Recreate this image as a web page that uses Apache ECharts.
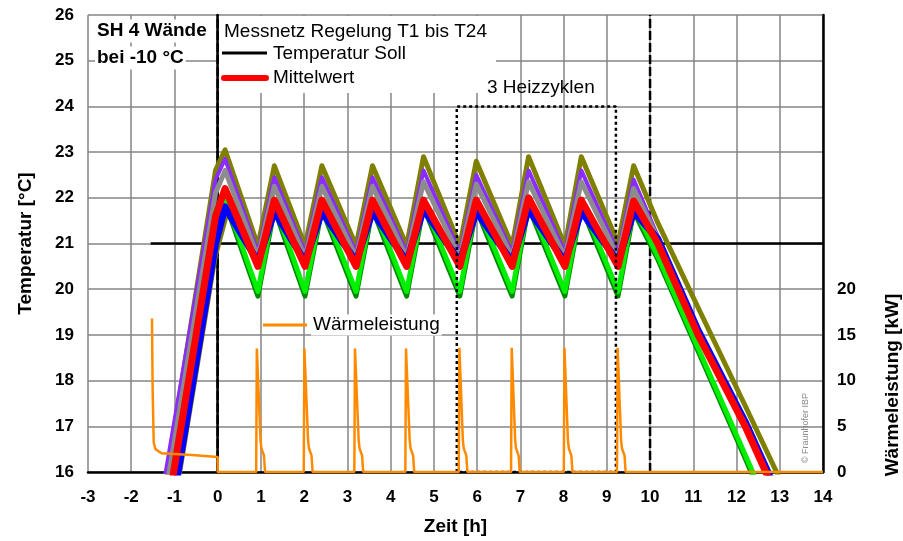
<!DOCTYPE html>
<html>
<head>
<meta charset="utf-8">
<script src="https://cdn.jsdelivr.net/npm/echarts@6/dist/echarts.min.js"></script>
<style>
  html, body { margin: 0; padding: 0; background: #fff; }
  #chart { width: 903px; height: 541px; }
</style>
</head>
<body>
<div id="chart"></div>
<script>
// Stuetzstellen der Zeit [h] fuer die Temperaturfuehler
var zeit = [-1.4, -0.05, 0.17, 0.93, 1.31, 2.02, 2.41, 3.20, 3.58, 4.37, 4.76, 5.60, 5.98, 6.81, 7.19, 8.03, 8.41, 9.26, 9.62, 10.18, 11.11, 12.2, 13.2];

// Temperaturen [°C]
var oliv   = [14.6, 22.6, 23.05, 20.95, 22.7, 20.95, 22.7, 20.95, 22.7, 20.95, 22.9, 20.95, 22.8, 20.95, 22.9, 20.95, 22.9, 21.0, 22.7, 21.45, 19.6, 17.45, 15.45];
var lila   = [14.9, 22.4, 22.85, 20.8, 22.45, 20.8, 22.45, 20.8, 22.45, 20.8, 22.6, 20.8, 22.5, 20.8, 22.6, 20.8, 22.6, 20.8, 22.4, 21.15, 19.15, 17.1, 15.0];
var grau   = [14.4, 22.1, 22.6, 20.7, 22.25, 20.7, 22.25, 20.7, 22.25, 20.7, 22.35, 20.7, 22.3, 20.7, 22.35, 20.7, 22.35, 20.7, 22.2, 21.1, 19.1, 17.05, 15.0];
var dgruen = [13.8, 21.6, 21.9, 19.85, 21.75, 19.85, 21.75, 19.85, 21.75, 19.85, 21.8, 19.85, 21.75, 19.85, 21.8, 19.85, 21.8, 19.85, 21.7, 20.65, 18.65, 16.3, 14.1];
var gruen  = [13.9, 21.7, 22.0, 19.95, 21.85, 19.95, 21.85, 19.95, 21.85, 19.95, 21.9, 19.95, 21.85, 19.95, 21.9, 19.95, 21.9, 19.95, 21.8, 20.72, 18.72, 16.38, 14.2];
var blau   = [13.2, 21.0, 21.8, 20.6, 21.7, 20.6, 21.7, 20.6, 21.7, 20.6, 21.75, 20.6, 21.7, 20.6, 21.75, 20.6, 21.7, 20.6, 21.7, 21.1, 19.1, 17.1, 15.0];
var mittel = [13.8, 21.6, 22.2, 20.5, 21.95, 20.5, 21.95, 20.5, 21.95, 20.5, 21.95, 20.5, 21.95, 20.5, 22.0, 20.5, 21.95, 20.5, 21.93, 21.0, 19.0, 17.0, 14.9];

// langsamer Fuehler beim Aufheizen
var oliv2Zeit = [-1.4, -0.05, 0.22, 0.6, 0.93];
var oliv2     = [12.95, 20.7, 21.65, 21.1, 20.6];

var soll = [[-1.55, 21], [14, 21]];
var grenzen = [0, 10];
var heizBox = [[5.53, 16], [5.53, 24], [9.21, 24], [9.21, 16], [5.53, 16]];

// Waermeleistung [kW]
var leistung = [
  [-1.52, 16.8], [-1.505, 9], [-1.48, 3.2], [-1.44, 2.5], [-1.3, 2.05], [-0.6, 1.85], [0, 1.65], [0, 0],
  [0.89, 0], [0.905, 13.5], [0.95, 13.4], [0.99, 3.5], [1.01, 2.6], [1.07, 1.8], [1.09, 1.7], [1.095, 0],
  [1.99, 0], [2.005, 13.5], [2.05, 13.4], [2.09, 3.5], [2.11, 2.6], [2.17, 1.8], [2.19, 1.7], [2.195, 0],
  [3.16, 0], [3.175, 13.5], [3.22, 13.4], [3.26, 3.5], [3.28, 2.6], [3.34, 1.8], [3.36, 1.7], [3.365, 0],
  [4.34, 0], [4.355, 13.5], [4.40, 13.4], [4.44, 3.5], [4.46, 2.6], [4.52, 1.8], [4.54, 1.7], [4.545, 0],
  [5.575, 0], [5.59, 13.6], [5.63, 13.4], [5.67, 3.5], [5.69, 2.6], [5.75, 1.8], [5.77, 1.7], [5.775, 0],
  [6.785, 0], [6.80, 13.6], [6.84, 13.4], [6.88, 3.5], [6.90, 2.6], [6.96, 1.8], [6.98, 1.7], [6.985, 0],
  [8.005, 0], [8.02, 13.6], [8.06, 13.4], [8.10, 3.5], [8.12, 2.6], [8.18, 1.8], [8.20, 1.7], [8.205, 0],
  [9.235, 0], [9.25, 13.6], [9.29, 13.4], [9.33, 3.5], [9.35, 2.6], [9.41, 1.8], [9.43, 1.7], [9.435, 0],
  [14, 0]
];

var schrift = "'Liberation Sans', Arial, sans-serif";

function paare(t, v) {
  return t.map(function (x, i) { return [x, v[i]]; });
}

function fuehler(name, werte, farbe, breite) {
  return {
    name: name, type: 'line', data: paare(zeit, werte), showSymbol: false,
    lineStyle: { color: farbe, width: breite, join: 'round' }, silent: true
  };
}

var series = [
  { type: 'line', data: soll, showSymbol: false, lineStyle: { color: '#000', width: 2.5 } }
];
grenzen.forEach(function (g) {
  series.push({
    type: 'line', data: [[g, 16], [g, 26]], showSymbol: false,
    lineStyle: { color: '#000', width: 2.5, type: [9, 3] }
  });
});
series.push(fuehler('T oliv', oliv, '#808000', 5));
series.push({
  type: 'line', data: paare(oliv2Zeit, oliv2), showSymbol: false,
  lineStyle: { color: '#808000', width: 4 }
});
series.push(fuehler('T lila', lila, '#8a2cff', 4));
series.push(fuehler('T grau', grau, '#8c8c8c', 5));
series.push(fuehler('T dunkelgruen', dgruen, '#008a00', 5));
series.push(fuehler('T gruen', gruen, '#00f000', 5));
series.push(fuehler('T blau', blau, '#0000ff', 7));
series.push(fuehler('Mittelwert', mittel, '#ff0000', 7));
series.push({
  type: 'line', data: heizBox, showSymbol: false,
  lineStyle: { color: '#000', width: 2.5, type: [3, 3] }
});
series.push({
  name: 'Wärmeleistung', type: 'line', yAxisIndex: 1, data: leistung, showSymbol: false,
  lineStyle: { color: '#ff8a00', width: 2.5 }
});

var chart = echarts.init(document.getElementById('chart'));
chart.setOption({
  animation: false,
  backgroundColor: '#fff',
  grid: { left: 88, right: 80, top: 15, bottom: 67 },
  xAxis: {
    type: 'value', min: -3, max: 14, interval: 1,
    name: 'Zeit [h]', nameLocation: 'middle', nameGap: 45,
    nameTextStyle: { fontFamily: schrift, fontSize: 19, fontWeight: 'bold', color: '#000' },
    axisLine: { onZero: false, lineStyle: { color: '#000', width: 2.5 } },
    axisTick: { show: false },
    axisLabel: { fontFamily: schrift, fontSize: 17, fontWeight: 'bold', color: '#000', margin: 17 },
    splitLine: { lineStyle: { color: '#858585', width: 1.5 } }
  },
  yAxis: [{
    type: 'value', min: 16, max: 26, interval: 1,
    name: 'Temperatur [°C]', nameLocation: 'middle', nameGap: 53, nameRotate: 90,
    nameTextStyle: { fontFamily: schrift, fontSize: 19, fontWeight: 'bold', color: '#000' },
    axisLine: { show: true, lineStyle: { color: '#000', width: 2.5 } },
    axisTick: { show: false },
    axisLabel: { fontFamily: schrift, fontSize: 17, fontWeight: 'bold', color: '#000', margin: 14 },
    splitLine: { lineStyle: { color: '#858585', width: 1.5 } }
  }, {
    type: 'value', min: 0, max: 50, interval: 5, position: 'right',
    axisLine: { show: true, lineStyle: { color: '#000', width: 2.5 } },
    axisTick: { show: false },
    axisLabel: {
      fontFamily: schrift, fontSize: 17, fontWeight: 'bold', color: '#000', margin: 14,
      formatter: function (v) { return v <= 20 ? String(v) : ''; }
    },
    splitLine: { show: false }
  }],
  graphic: [
    { type: 'rect', z: 1, shape: { x: 219, y: 16, width: 277, height: 77 }, style: { fill: '#fff' } },
    { type: 'text', z: 5, style: { x: 95, y: 31, text: 'SH 4 Wände', font: 'bold 19px ' + schrift, fill: '#000',
        verticalAlign: 'middle', backgroundColor: '#fff', padding: [2, 2, 2, 2] } },
    { type: 'text', z: 5, style: { x: 95, y: 58, text: 'bei -10 °C', font: 'bold 19px ' + schrift, fill: '#000',
        verticalAlign: 'middle', backgroundColor: '#fff', padding: [2, 2, 2, 2] } },
    { type: 'text', z: 5, style: { x: 224, y: 32, text: 'Messnetz Regelung T1 bis T24', font: '19px ' + schrift, fill: '#000', verticalAlign: 'middle' } },
    { type: 'line', z: 5, shape: { x1: 222, y1: 53, x2: 267, y2: 53 }, style: { stroke: '#000', lineWidth: 3 } },
    { type: 'text', z: 5, style: { x: 273, y: 54, text: 'Temperatur Soll', font: '19px ' + schrift, fill: '#000', verticalAlign: 'middle' } },
    { type: 'line', z: 5, shape: { x1: 224, y1: 78, x2: 266, y2: 78 }, style: { stroke: '#ff0000', lineWidth: 6, lineCap: 'round' } },
    { type: 'text', z: 5, style: { x: 273, y: 78, text: 'Mittelwert', font: '19px ' + schrift, fill: '#000', verticalAlign: 'middle' } },
    { type: 'text', z: 5, style: { x: 487, y: 88, text: '3 Heizzyklen', font: '19px ' + schrift, fill: '#000', verticalAlign: 'middle' } },
    { type: 'line', z: 5, shape: { x1: 263, y1: 325, x2: 307, y2: 325 }, style: { stroke: '#ff8a00', lineWidth: 3 } },
    { type: 'text', z: 5, style: { x: 311, y: 325, text: 'Wärmeleistung', font: '19px ' + schrift, fill: '#000',
        verticalAlign: 'middle', backgroundColor: '#fff', padding: [1, 2, 1, 2] } },
    { type: 'text', z: 5, x: 806, y: 428, rotation: Math.PI / 2,
      style: { x: 0, y: 0, text: '© Fraunhofer IBP', font: '9px ' + schrift, fill: '#8a8a8a', align: 'center', verticalAlign: 'middle' } },
    { type: 'text', z: 5, x: 893, y: 385, rotation: Math.PI / 2,
      style: { x: 0, y: 0, text: 'Wärmeleistung [kW]', font: 'bold 19px ' + schrift, fill: '#000', align: 'center', verticalAlign: 'middle' } }
  ],
  series: series
});
</script>
</body>
</html>
